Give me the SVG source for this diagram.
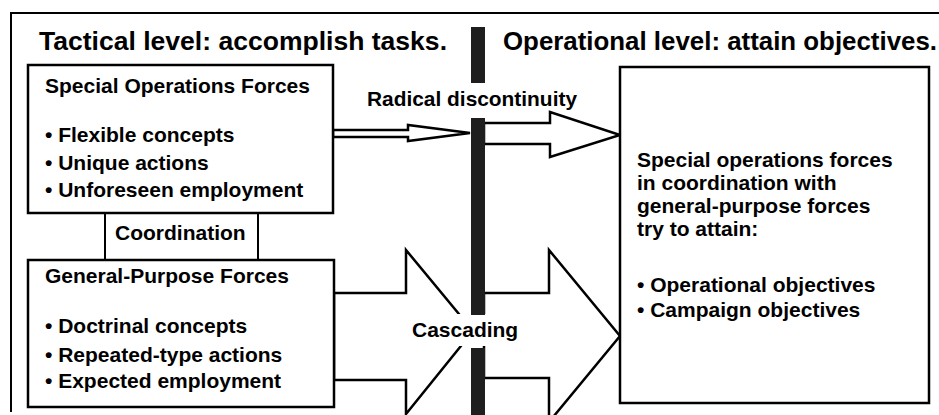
<svg xmlns="http://www.w3.org/2000/svg" width="939" height="415" viewBox="0 0 939 415">
<style>
text{font-family:"Liberation Sans",Arial,Helvetica,sans-serif;font-weight:bold;fill:#000}
.t{font-size:26px}
.b{font-size:21px}
.box{fill:#fff;stroke:#000;stroke-width:2.5}
.ln{fill:none;stroke:#000;stroke-width:2}
.arr{fill:#fff;stroke:#000;stroke-width:2.5;stroke-linejoin:miter}
.bar{fill:#1e1e1e}
</style>
<rect width="939" height="415" fill="#fff"/>
<g id="frame">
<polyline class="ln" points="11,412 11,13 939,13"/>
</g>
<g id="title-tactical"><text class="t" x="39" y="50" textLength="408" lengthAdjust="spacingAndGlyphs">Tactical level: accomplish tasks.</text></g>
<g id="title-operational"><text class="t" x="503" y="50" textLength="434" lengthAdjust="spacingAndGlyphs">Operational level: attain objectives.</text></g>
<g id="connectors">
<polygon class="arr" points="333,130 408,130 408,125 470,133 408,141 408,137 333,137"/>
<polygon class="arr" points="484,123 550,123 550,112 620,135 550,157 550,144 484,144"/>
<polygon class="arr" points="334,293 406,293 406,250 473,331 406,414 406,380 334,380"/>
<polygon class="arr" points="484,293 549,293 549,250 620,336 549,422 549,378 484,378"/>
<text class="b" x="367" y="106" textLength="210" lengthAdjust="spacingAndGlyphs">Radical discontinuity</text>
<rect x="410" y="314" width="110" height="32" fill="#fff"/>
<text class="b" x="412" y="337">Cascading</text>
</g>
<g id="discontinuity-bar">
<rect class="bar" x="471" y="27" width="14" height="56"/>
<rect class="bar" x="471" y="118" width="14" height="197"/>
<rect class="bar" x="471" y="348" width="14" height="67"/>
</g>
<g id="sof">
<rect class="box" x="28" y="65" width="305" height="148"/>
<text class="b" x="45" y="93">Special Operations Forces</text>
<text class="b" x="45" y="142">• Flexible concepts</text>
<text class="b" x="45" y="170">• Unique actions</text>
<text class="b" x="45" y="197">• Unforeseen employment</text>
</g>
<g id="coordination">
<line class="ln" x1="105" y1="213" x2="105" y2="260"/>
<line class="ln" x1="258" y1="213" x2="258" y2="260"/>
<text class="b" x="115" y="240">Coordination</text>
</g>
<g id="gpf">
<rect class="box" x="28" y="260" width="306" height="147"/>
<text class="b" x="45" y="283">General-Purpose Forces</text>
<text class="b" x="45" y="333">• Doctrinal concepts</text>
<text class="b" x="45" y="362">• Repeated-type actions</text>
<text class="b" x="45" y="388">• Expected employment</text>
</g>
<g id="objectives">
<rect class="box" x="620" y="67" width="309" height="336"/>
<text class="b" x="637" y="167">Special operations forces</text>
<text class="b" x="637" y="190">in coordination with</text>
<text class="b" x="637" y="213">general-purpose forces</text>
<text class="b" x="637" y="236">try to attain:</text>
<text class="b" x="637" y="292">• Operational objectives</text>
<text class="b" x="637" y="317">• Campaign objectives</text>
</g>
</svg>
